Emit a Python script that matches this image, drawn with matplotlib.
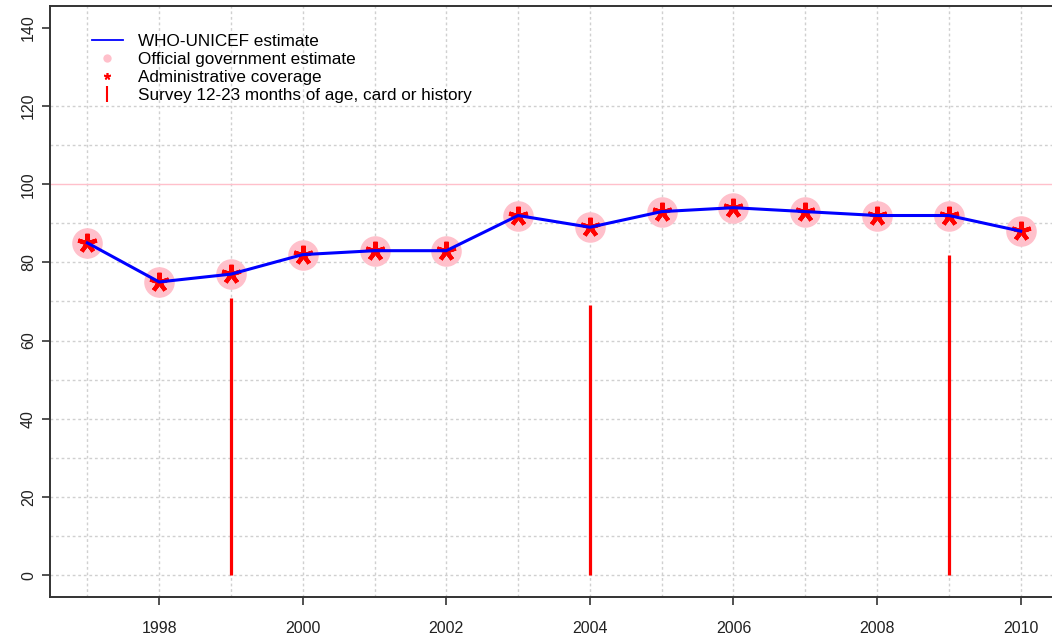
import matplotlib
matplotlib.use("Agg")
import matplotlib.pyplot as plt
from matplotlib.lines import Line2D

years = [1997, 1998, 1999, 2000, 2001, 2002, 2003, 2004, 2005, 2006, 2007, 2008, 2009, 2010]
who_unicef = [85, 75, 77, 82, 83, 83, 92, 89, 93, 94, 93, 92, 92, 88]
official = [85, 75, 77, 82, 83, 83, 92, 89, 93, 94, 93, 92, 92, 88]
admin = [85, 75, 77, 82, 83, 83, 92, 89, 93, 94, 93, 92, 92, 88]
survey_years = [1999, 2004, 2009]
survey_vals = [71, 69, 82]
x_ticks = [1998, 2000, 2002, 2004, 2006, 2008, 2010]
y_ticks = [0, 20, 40, 60, 80, 100, 120, 140]
h_grid = [0, 10, 20, 30, 40, 50, 60, 70, 80, 90, 110, 120]

plt.rcParams['font.family'] = ['Liberation Sans', 'DejaVu Sans']

fig = plt.figure(figsize=(10.52, 6.37), dpi=100)
ax = fig.add_axes([50/1052, 40/637, 1008/1052, 591/637])

ax.set_xlim(1996.48, 2010.52)
ax.set_ylim(-5.6, 145.6)

grid_col = '#d0d0d0'
for yv in h_grid:
    ax.axhline(yv, color=grid_col, linestyle=(0, (2, 2)), linewidth=1.0, zorder=1)
for xv in years:
    ax.axvline(xv, color=grid_col, linestyle=(0, (2, 2)), linewidth=1.0, zorder=1)
ax.axhline(100, color='pink', linewidth=1.0, zorder=1)

ast = (5, 2, 0)
ax.plot(years, official, linestyle='none', marker='o', markersize=22,
        color='pink', markeredgewidth=0, zorder=2)
ax.plot(years, admin, linestyle='none', marker=ast, markersize=14,
        color='red', markeredgecolor='red', markeredgewidth=3, zorder=3)
ax.plot(years, who_unicef, color='blue', linewidth=2.2, zorder=4)
ax.vlines(survey_years, 0, survey_vals, color='red', linewidth=2.3, zorder=3)

ax.set_xticks(x_ticks)
ax.set_xticklabels([str(v) for v in x_ticks])
ax.set_yticks(y_ticks)
ax.set_yticklabels([str(v) for v in y_ticks], rotation=90, va='center')
ax.tick_params(axis='both', length=6, width=1.2, color='#333333', labelsize=11.5,
               labelcolor='#222222')
ax.tick_params(axis='x', pad=11)
ax.tick_params(axis='y', pad=4)

for s in ax.spines.values():
    s.set_color('#333333')
    s.set_linewidth(1.4)
ax.spines['right'].set_visible(False)

handles = [
    Line2D([], [], color='blue', linewidth=1.3),
    Line2D([], [], linestyle='none', marker='o', color='pink', markersize=6, markeredgewidth=0),
    Line2D([], [], linestyle='none', marker=ast, color='red', markersize=5, markeredgewidth=1.2),
    Line2D([], [], linestyle='none', marker='|', color='red', markersize=12, markeredgewidth=1.5),
]
labels = ['WHO-UNICEF estimate', 'Official government estimate',
          'Administrative coverage', 'Survey 12-23 months of age, card or history']
ax.legend(handles, labels, loc='upper left', bbox_to_anchor=(0.0417, 0.952), frameon=False,
          fontsize=12.3, handlelength=1.8, handletextpad=0.88, labelspacing=0.17,
          borderaxespad=0, borderpad=0)

fig.savefig('out.png', dpi=100)
